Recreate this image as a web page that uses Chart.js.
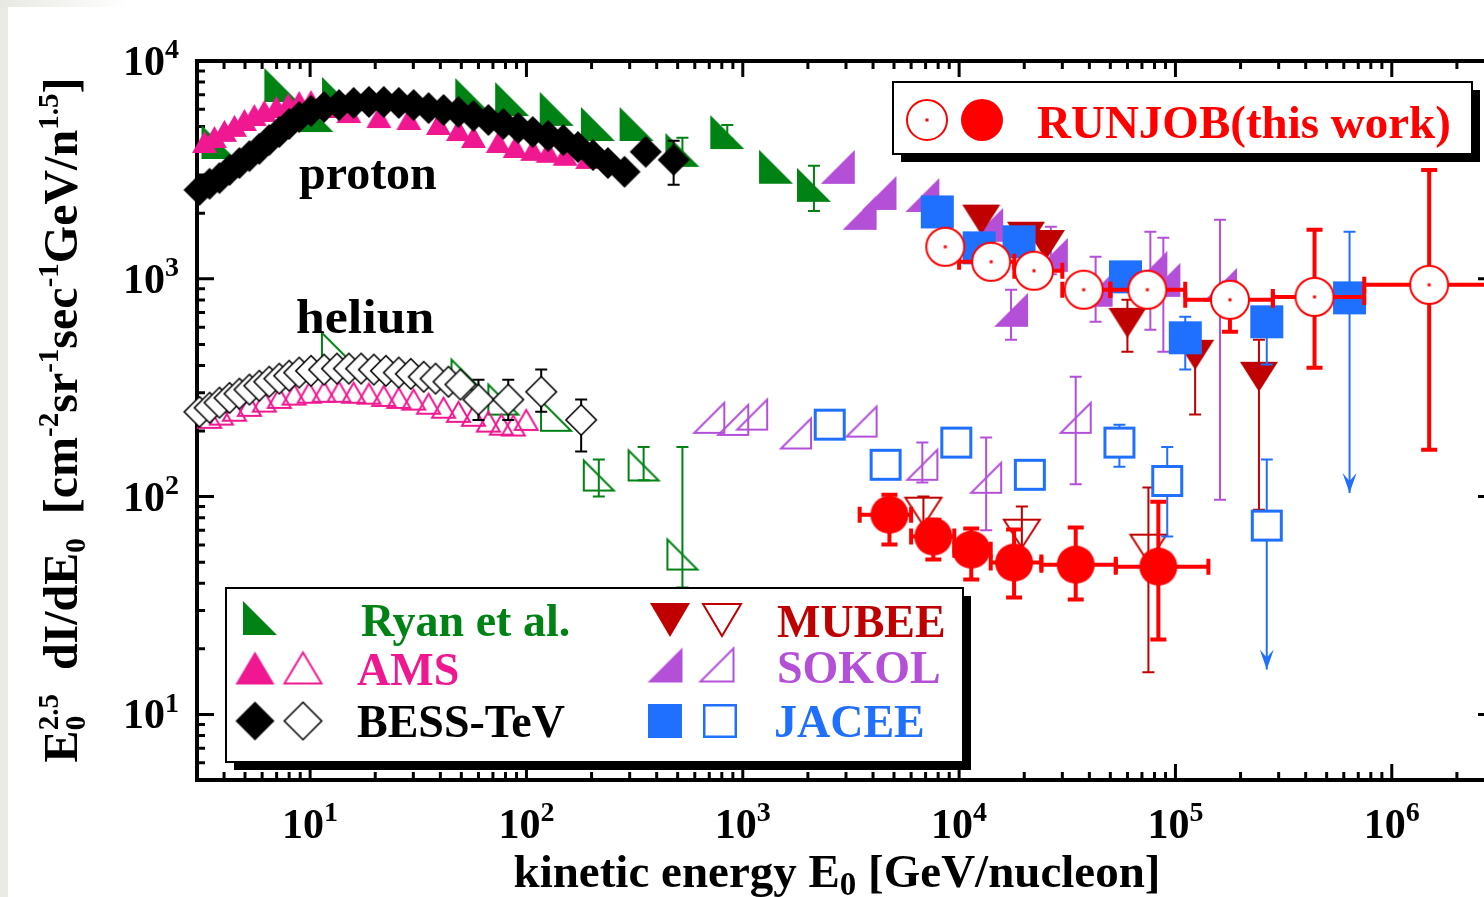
<!DOCTYPE html>
<html>
<head>
<meta charset="utf-8">
<script src="https://cdn.jsdelivr.net/npm/chart.js@4.4.0/dist/chart.umd.min.js"></script>
<style>
  html, body { margin: 0; padding: 0; background: #fff; overflow: hidden; }
  #wrap { width: 1484px; height: 897px; overflow: hidden; position: relative; }
  canvas { display: block; }
</style>
</head>
<body>
<div id="wrap"><canvas id="myChart" width="1510" height="897"></canvas></div>
<script>
const FAMILY = '"Liberation Serif", "Times New Roman", serif';

// ---- data (E in GeV/nucleon, flux x E^2.5) ----
// Ryan et al.
const ryanProtonE = [3.77, 7.36, 10.7, 13.6, 56.2, 85.9, 138, 214, 323, 526, 848, 1425, 2133];
const ryanProtonF = [4250, 7760, 5650, 7060, 6980, 6690, 6030, 5140, 5140, 3910, 4720, 3270, 2700];
const ryanProtonErr = [null, null, null, null, null, null, null, null, null, [3600, 4440], [4400, 5090], null, [2050, 3300]];
const ryanHeliumE = [13.3, 52.8, 78.2, 137, 216, 348, 526];
const ryanHeliumF = [482, 363, 279, 235, 125, 139, 54.2];
const ryanHeliumErr = [null, null, null, null, [100, 148], [119, 169], [38.3, 169]];

// AMS
const amsProtonE = [3.25, 3.61, 4.02, 4.47, 4.97, 5.52, 6.14, 6.98, 7.92, 8.90, 10.1, 12.2, 15.1, 20.8, 28.6, 39.2, 48.5, 56.9, 74.1, 88.7, 107, 126, 151, 192];
const amsProtonF = [4250, 4480, 4780, 5040, 5360, 5650, 5900, 6150, 6350, 6490, 6560, 6150, 5830, 5530, 5420, 5140, 4820, 4480, 4250, 4030, 3910, 3830, 3710, 3590];
const amsHeliumE = [3.43, 3.89, 4.47, 5.24, 6.14, 7.20, 8.44, 9.9, 11.6, 13.6, 15.9, 18.7, 21.9, 25.7, 30.1, 35.3, 41.4, 48.5, 56.9, 66.7, 76.6, 86.9, 99.7];
const amsHeliumF = [230, 238, 248, 261, 273, 284, 294, 300, 303, 303, 300, 297, 290, 284, 279, 267, 256, 245, 235, 221, 214, 212, 225];

// BESS-TeV
const bessProtonE = [3.08, 3.43, 3.81, 4.24, 4.71, 5.24, 5.82, 6.47, 7.20, 8.00, 8.90, 10.1, 11.6, 13.6, 15.9, 18.7, 21.9, 25.7, 30.1, 35.3, 41.4, 48.5, 56.9, 66.7, 78.2, 91.6, 107, 126, 148, 173, 203, 238, 284, 356, 479];
const bessProtonF = [2560, 2730, 2900, 3160, 3400, 3660, 3950, 4340, 4720, 5140, 5530, 5900, 6150, 6280, 6420, 6490, 6490, 6420, 6280, 6080, 5960, 5830, 5600, 5360, 5140, 4930, 4720, 4530, 4340, 4030, 3700, 3400, 3100, 3830, 3520];
const bessProtonErr = [null, null, null, null, null, null, null, null, null, null, null, null, null, null, null, null, null, null, null, null, null, null, null, null, null, null, null, null, null, null, null, null, null, null, [2700, 4300]];
const bessHeliumE = [3.08, 3.43, 3.81, 4.24, 4.71, 5.24, 5.82, 6.47, 7.20, 8.00, 8.90, 10.1, 11.6, 13.3, 15.1, 17.2, 19.7, 22.4, 25.7, 29.2, 33.5, 38.0, 43.6, 49.5, 60.0, 82.4, 117, 179];
const bessHeliumF = [245, 256, 270, 284, 297, 310, 323, 337, 348, 359, 371, 378, 383, 387, 387, 387, 383, 378, 371, 366, 355, 348, 337, 327, 279, 279, 303, 225];
const bessHeliumErr = [null, null, null, null, null, null, null, null, null, null, null, null, null, null, null, null, null, null, null, null, null, null, null, null, [225, 344], [225, 344], [245, 383], [161, 279]];

// MUBEE
const mubeeProtonE = [12650, 20370, 25180, 59980, 123300, 243200];
const mubeeProtonF = [1870, 1560, 1430, 628, 448, 355];
const mubeeProtonErr = [null, null, null, [462, 801], [238, 583], [87, 525]];
const mubeeHeliumE = [6840, 19500, 75000];
const mubeeHeliumF = [85.3, 67.6, 57.7];
const mubeeHeliumErr = [[71, 100], [51.4, 90], [15.6, 110]];

// SOKOL
const sokolProtonE = [2748, 3467, 4285, 6761, 13335, 17378, 26546, 42756, 76560, 87902, 160700];
const sokolProtonF = [3266, 2009, 2479, 2427, 1770, 721, 1288, 891, 1123, 989, 938];
const sokolProtonErr = [null, null, null, null, null, [525, 891], [1050, 1733], [635, 1262], [583, 1644], [462, 1542], [96.8, 1866]];
const sokolHeliumE = [700, 903, 1105, 1762, 3541, 6761, 13335, 34590];
const sokolHeliumF = [230, 225, 238, 195, 221, 140, 122, 230];
const sokolHeliumErr = [null, null, null, null, null, [116, 177], [70, 187], [114, 355]];

// JACEE
const jaceeProtonE = [7925, 12380, 18920, 58750, 111000, 264300, 638000];
const jaceeProtonF = [2028, 1387, 1479, 1021, 536, 635, 818];
const jaceeProtonErr = [null, null, null, null, [383, 670], [404, 700], [104, 1644]];
const jaceeProtonLim = [false, false, false, false, false, false, true];
const jaceeHeliumE = [2523, 4571, 9705, 21230, 55080, 91620, 264300];
const jaceeHeliumF = [214, 140, 177, 126, 177, 118, 73.6];
const jaceeHeliumErr = [null, null, null, null, [137, 214], [65.6, 169], [16.1, 148]];
const jaceeHeliumLim = [false, false, false, false, false, false, true];

// RUNJOB (this work)
const runjobProtonE = [8630, 14060, 22180, 37670, 74130, 178600, 439500, 1489000];
const runjobProtonF = [1403, 1197, 1089, 891, 891, 801, 826, 938];
const runjobProtonErr = [null, null, null, null, null, [571, 960], [391, 1679], [164, 3162]];
const runjobProtonBins = [[7500, 10000], [10000, 18000], [18000, 30000], [30000, 50000], [50000, 111000], [111000, 282000], [282000, 746000], [746000, 3000000]];
const runjobHeliumE = [4764, 7603, 11380, 17950, 34590, 83370];
const runjobHeliumF = [82.6, 65.6, 57.1, 49.8, 48.7, 47.7];
const runjobHeliumErr = [[60.3, 102], [51.4, 78.4], [41.6, 71.3], [34.4, 70.6], [33.7, 72.1], [22.1, 94.8]];
const runjobHeliumBins = [[3470, 6000], [6000, 9500], [9500, 14000], [14000, 24000], [24000, 53000], [53000, 142000]];

// axis labels (powers of ten)
const xTickExp = [1, 2, 3, 4, 5, 6];
const yTickExp = [1, 2, 3, 4];

// ---- colours ----
const GREEN = '#008214', PINK = '#f01890', DARKRED = '#c00000', PURPLE = '#b450d8', BLUE = '#2070ff', RED = '#ff0000';

// ---- marker images ----
function shape(kind, w, h, color, fill, lw, dot) {
  const pad = 2;
  const c = document.createElement('canvas');
  c.width = w + pad * 2; c.height = h + pad * 2;
  const g = c.getContext('2d');
  g.translate(pad, pad);
  const q = lw / 2;
  g.beginPath();
  if (kind === 'rtL') { g.moveTo(q, q); g.lineTo(q, h - q); g.lineTo(w - q, h - q); }
  else if (kind === 'rtR') { g.moveTo(w - q, q); g.lineTo(w - q, h - q); g.lineTo(q, h - q); }
  else if (kind === 'up') { g.moveTo(w / 2, q); g.lineTo(w - q, h - q); g.lineTo(q, h - q); }
  else if (kind === 'down') { g.moveTo(q, q); g.lineTo(w - q, q); g.lineTo(w / 2, h - q); }
  else if (kind === 'dia') { g.moveTo(w / 2, q); g.lineTo(w - q, h / 2); g.lineTo(w / 2, h - q); g.lineTo(q, h / 2); }
  else if (kind === 'sq') { g.rect(q, q, w - 2 * q, h - 2 * q); }
  else if (kind === 'circ') { g.arc(w / 2, h / 2, w / 2 - q, 0, Math.PI * 2); }
  g.closePath();
  if (fill === 'solid') { g.fillStyle = color; g.fill(); }
  else {
    if (fill === 'white') { g.fillStyle = '#fff'; g.fill(); }
    g.lineWidth = lw; g.strokeStyle = color; g.stroke();
  }
  if (dot) { g.fillStyle = color; g.fillRect(w / 2 - 1.5, h / 2 - 1.5, 3, 3); }
  return c;
}

const mk = {
  ryanP: shape('rtL', 34, 34, GREEN, 'solid', 0),
  ryanH: shape('rtL', 32, 32, GREEN, 'none', 2),
  amsP: shape('up', 25, 22, PINK, 'solid', 0),
  amsH: shape('up', 25, 22, PINK, 'none', 2),
  bessP: shape('dia', 32, 32, '#000', 'solid', 0),
  bessH: shape('dia', 32, 32, '#000', 'white', 1.6),
  mubeeP: shape('down', 38, 30, DARKRED, 'solid', 0),
  mubeeH: shape('down', 38, 30, DARKRED, 'none', 2),
  sokolP: shape('rtR', 34, 34, PURPLE, 'solid', 0),
  sokolH: shape('rtR', 32, 32, PURPLE, 'none', 2),
  jaceeP: shape('sq', 33, 33, BLUE, 'solid', 0),
  jaceeH: shape('sq', 32, 32, BLUE, 'white', 3),
  runjobP: shape('circ', 40, 40, RED, 'white', 2, true),
  runjobH: shape('circ', 38, 38, RED, 'solid', 0)
};
const lg = {
  ryanP: shape('rtL', 34, 34, GREEN, 'solid', 0),
  amsP: shape('up', 39, 33, PINK, 'solid', 0),
  amsH: shape('up', 39, 33, PINK, 'none', 2),
  bessP: shape('dia', 39, 39, '#000', 'solid', 0),
  bessH: shape('dia', 39, 39, '#000', 'white', 1.6),
  mubeeP: shape('down', 40, 34, DARKRED, 'solid', 0),
  mubeeH: shape('down', 40, 34, DARKRED, 'none', 2),
  sokolP: shape('rtR', 35, 35, PURPLE, 'solid', 0),
  sokolH: shape('rtR', 35, 35, PURPLE, 'none', 2),
  jaceeP: shape('sq', 34, 34, BLUE, 'solid', 0),
  jaceeH: shape('sq', 34, 34, BLUE, 'white', 2.5),
  runjobP: shape('circ', 42, 42, RED, 'white', 2, true),
  runjobH: shape('circ', 42, 42, RED, 'solid', 0)
};

function pts(E, F, err, bins, lim) {
  return E.map((e, i) => {
    const p = { x: e, y: F[i] };
    if (err && err[i]) { p.yl = err[i][0]; p.yh = err[i][1]; }
    if (bins && bins[i]) { p.xl = bins[i][0]; p.xh = bins[i][1]; }
    if (lim && lim[i]) p.lim = true;
    return p;
  });
}

function ds(data, img, order, color, width, cap) {
  return { data: data, pointStyle: img, pointRadius: 14, pointHoverRadius: 14, order: order,
           clip: false, err: { color: color, width: width, cap: cap } };
}

// ---- plugins ----
function rich(ctx, parts, x, y, size, align, color, ratio) {
  const small = Math.round(size * (ratio || 0.6));
  const font = s => 'bold ' + s + 'px ' + FAMILY;
  const widths = [];
  let w = 0;
  parts.forEach(([t, k]) => {
    ctx.font = font(k === 'n' ? size : small);
    const tw = ctx.measureText(t).width;
    widths.push(tw);
    if (k !== 'subk') w += tw;
  });
  let cx = align === 'center' ? x - w / 2 : align === 'right' ? x - w : x;
  ctx.textAlign = 'left';
  ctx.textBaseline = 'alphabetic';
  ctx.fillStyle = color;
  parts.forEach(([t, k], i) => {
    ctx.font = font(k === 'n' ? size : small);
    const dy = k === 'sup' ? -size * 0.4 : (k === 'sub' || k === 'subk') ? size * 0.16 : 0;
    ctx.fillText(t, cx, y + dy);
    if (k !== 'subk') cx += widths[i];
  });
}

const errorBars = {
  id: 'errorBars',
  beforeDatasetDraw(chart, args) {
    const set = chart.data.datasets[args.index];
    if (!set.err) return;
    const { ctx } = chart;
    const xs = chart.scales.x, ys = chart.scales.y;
    const st = set.err;
    ctx.save();
    ctx.strokeStyle = st.color;
    ctx.fillStyle = st.color;
    ctx.lineWidth = st.width;
    set.data.forEach(p => {
      const px = xs.getPixelForValue(p.x), py = ys.getPixelForValue(p.y);
      if (p.yl != null) {
        const y1 = ys.getPixelForValue(p.yl), y2 = ys.getPixelForValue(p.yh);
        ctx.beginPath();
        ctx.moveTo(px, y1); ctx.lineTo(px, y2);
        ctx.moveTo(px - st.cap / 2, y2); ctx.lineTo(px + st.cap / 2, y2);
        if (!p.lim) { ctx.moveTo(px - st.cap / 2, y1); ctx.lineTo(px + st.cap / 2, y1); }
        ctx.stroke();
        if (p.lim) {
          ctx.beginPath();
          ctx.moveTo(px, y1);
          ctx.lineTo(px - 7, y1 - 20);
          ctx.lineTo(px, y1 - 12);
          ctx.lineTo(px + 7, y1 - 20);
          ctx.closePath();
          ctx.fill();
        }
      }
      if (p.xl != null) {
        const x1 = xs.getPixelForValue(p.xl), x2 = xs.getPixelForValue(p.xh);
        ctx.beginPath();
        ctx.moveTo(x1, py); ctx.lineTo(x2, py);
        ctx.moveTo(x1, py - st.cap / 2); ctx.lineTo(x1, py + st.cap / 2);
        ctx.moveTo(x2, py - st.cap / 2); ctx.lineTo(x2, py + st.cap / 2);
        ctx.stroke();
      }
    });
    ctx.restore();
  }
};

function box(ctx, x, y, w, h) {
  ctx.fillStyle = '#000';
  ctx.fillRect(x + 8, y + 8, w, h);
  ctx.fillStyle = '#fff';
  ctx.fillRect(x, y, w, h);
  ctx.lineWidth = 2;
  ctx.strokeStyle = '#000';
  ctx.strokeRect(x, y, w, h);
}
function stamp(ctx, img, cx, cy) { ctx.drawImage(img, cx - img.width / 2, cy - img.height / 2); }

const frame = {
  id: 'frame',
  beforeDraw(chart) {
    const { ctx } = chart;
    ctx.save();
    ctx.fillStyle = '#fff';
    ctx.fillRect(0, 0, chart.width, chart.height);
    ctx.fillStyle = '#ebebe6';
    ctx.fillRect(0, 0, 8, chart.height);
    const gr = ctx.createLinearGradient(0, 0, 130, 0);
    gr.addColorStop(0, '#e8e8e3');
    gr.addColorStop(1, '#ffffff');
    ctx.fillStyle = gr;
    ctx.fillRect(0, 0, 130, 7);
    ctx.restore();
  },
  beforeDatasetsDraw(chart) {
    const { ctx, chartArea: a } = chart;
    const xs = chart.scales.x, ys = chart.scales.y;
    ctx.save();
    ctx.strokeStyle = '#000';
    ctx.lineWidth = 3;
    ctx.beginPath();
    for (let k = 0; k <= 6; k++) {
      for (let m = 1; m <= 9; m++) {
        const v = m * Math.pow(10, k);
        if (v < 3 || v > 3e6) continue;
        const px = xs.getPixelForValue(v), len = m === 1 ? 16 : 8;
        ctx.moveTo(px, a.top); ctx.lineTo(px, a.top + len);
        ctx.moveTo(px, a.bottom); ctx.lineTo(px, a.bottom - len);
      }
    }
    for (let k = 0; k <= 4; k++) {
      for (let m = 1; m <= 9; m++) {
        const v = m * Math.pow(10, k);
        if (v < 5 || v > 1e4) continue;
        const py = ys.getPixelForValue(v), len = m === 1 ? 17 : 8;
        ctx.moveTo(a.left, py); ctx.lineTo(a.left + len, py);
        ctx.moveTo(a.right, py); ctx.lineTo(a.right - len, py);
      }
    }
    ctx.stroke();
    ctx.lineWidth = 4;
    ctx.strokeRect(a.left, a.top, a.right - a.left, a.bottom - a.top);
    ctx.restore();
  },
  afterDatasetsDraw(chart) {
    const { ctx } = chart;
    const xs = chart.scales.x, ys = chart.scales.y;
    ctx.save();

    // tick labels
    xTickExp.forEach(e => {
      const px = xs.getPixelForValue(Math.pow(10, e));
      rich(ctx, [['10', 'n'], [String(e), 'sup']], px, 838, 42, 'center', '#000', 0.66);
    });
    yTickExp.forEach(e => {
      const py = ys.getPixelForValue(Math.pow(10, e));
      rich(ctx, [['10', 'n'], [String(e), 'sup']], 179, py + 14, 42, 'right', '#000', 0.66);
    });

    // axis titles
    rich(ctx, [['kinetic energy E', 'n'], ['0', 'sub'], [' [GeV/nucleon]', 'n']], 837, 887, 47, 'center', '#000', 0.7);
    ctx.save();
    ctx.translate(77, 420);
    ctx.rotate(-Math.PI / 2);
    rich(ctx, [['E', 'n'], ['0', 'subk'], ['2.5', 'sup'], ['  dI/dE', 'n'], ['0', 'sub'], ['  [cm', 'n'],
               ['-2', 'sup'], ['sr', 'n'], ['-1', 'sup'], ['sec', 'n'], ['-1', 'sup'], ['GeV/n', 'n'],
               ['1.5', 'sup'], [']', 'n']], 0, 0, 48, 'center', '#000', 0.6);
    ctx.restore();

    // in-plot labels
    ctx.font = 'bold 48px ' + FAMILY;
    ctx.fillStyle = '#000';
    ctx.textAlign = 'left';
    ctx.textBaseline = 'alphabetic';
    ctx.fillText('proton', 299, 189);
    ctx.save();
    ctx.translate(296, 333);
    ctx.scale(1.08, 1);
    ctx.fillText('heliun', 0, 0);
    ctx.restore();

    // RUNJOB legend
    box(ctx, 893, 82, 579, 72);
    stamp(ctx, lg.runjobP, 927, 120);
    stamp(ctx, lg.runjobH, 982, 120);
    ctx.font = 'bold 47px ' + FAMILY;
    ctx.fillStyle = RED;
    ctx.fillText('RUNJOB(this work)', 1037, 138);

    // main legend
    box(ctx, 226, 588, 737, 174);
    stamp(ctx, lg.ryanP, 260, 618);
    stamp(ctx, lg.amsP, 255, 668);
    stamp(ctx, lg.amsH, 303, 668);
    stamp(ctx, lg.bessP, 255, 721);
    stamp(ctx, lg.bessH, 303, 721);
    stamp(ctx, lg.mubeeP, 670, 620);
    stamp(ctx, lg.mubeeH, 722, 620);
    stamp(ctx, lg.sokolP, 665, 665);
    stamp(ctx, lg.sokolH, 717, 665);
    stamp(ctx, lg.jaceeP, 665, 721);
    stamp(ctx, lg.jaceeH, 720, 721);
    ctx.font = 'bold 46px ' + FAMILY;
    ctx.fillStyle = GREEN; ctx.fillText('Ryan et al.', 361, 636);
    ctx.fillStyle = PINK; ctx.fillText('AMS', 357, 685);
    ctx.fillStyle = '#000'; ctx.fillText('BESS-TeV', 357, 737);
    ctx.fillStyle = DARKRED; ctx.fillText('MUBEE', 777, 637);
    ctx.fillStyle = PURPLE; ctx.fillText('SOKOL', 777, 683);
    ctx.fillStyle = BLUE; ctx.fillText('JACEE', 774, 737);

    ctx.restore();
  }
};

const ctx = document.getElementById('myChart');
const myChart = new Chart(ctx, {
  type: 'scatter',
  data: {
    datasets: [
      ds(pts(runjobProtonE, runjobProtonF, runjobProtonErr, runjobProtonBins), mk.runjobP, 1, RED, 4, 16),
      ds(pts(runjobHeliumE, runjobHeliumF, runjobHeliumErr, runjobHeliumBins), mk.runjobH, 1, RED, 4, 16),
      ds(pts(jaceeProtonE, jaceeProtonF, jaceeProtonErr, null, jaceeProtonLim), mk.jaceeP, 2, BLUE, 2, 12),
      ds(pts(jaceeHeliumE, jaceeHeliumF, jaceeHeliumErr, null, jaceeHeliumLim), mk.jaceeH, 2, BLUE, 2, 12),
      ds(pts(mubeeProtonE, mubeeProtonF, mubeeProtonErr), mk.mubeeP, 3, DARKRED, 2, 12),
      ds(pts(mubeeHeliumE, mubeeHeliumF, mubeeHeliumErr), mk.mubeeH, 3, DARKRED, 2, 12),
      ds(pts(sokolProtonE, sokolProtonF, sokolProtonErr), mk.sokolP, 4, PURPLE, 2, 12),
      ds(pts(sokolHeliumE, sokolHeliumF, sokolHeliumErr), mk.sokolH, 4, PURPLE, 2, 12),
      ds(pts(bessProtonE, bessProtonF, bessProtonErr), mk.bessP, 5, '#000', 2, 12),
      ds(pts(bessHeliumE, bessHeliumF, bessHeliumErr), mk.bessH, 5, '#000', 2, 12),
      ds(pts(amsProtonE, amsProtonF), mk.amsP, 6, PINK, 2, 12),
      ds(pts(amsHeliumE, amsHeliumF), mk.amsH, 6, PINK, 2, 12),
      ds(pts(ryanProtonE, ryanProtonF, ryanProtonErr), mk.ryanP, 7, GREEN, 2, 12),
      ds(pts(ryanHeliumE, ryanHeliumF, ryanHeliumErr), mk.ryanH, 7, GREEN, 2, 12)
    ]
  },
  options: {
    responsive: false,
    animation: false,
    events: [],
    layout: { padding: { left: 197, top: 61, right: 8, bottom: 117 } },
    scales: {
      x: { type: 'logarithmic', min: 3, max: 3e6, display: false },
      y: { type: 'logarithmic', min: 5, max: 1e4, display: false }
    },
    plugins: { legend: { display: false }, tooltip: { enabled: false } }
  },
  plugins: [frame, errorBars]
});
</script>
</body>
</html>
